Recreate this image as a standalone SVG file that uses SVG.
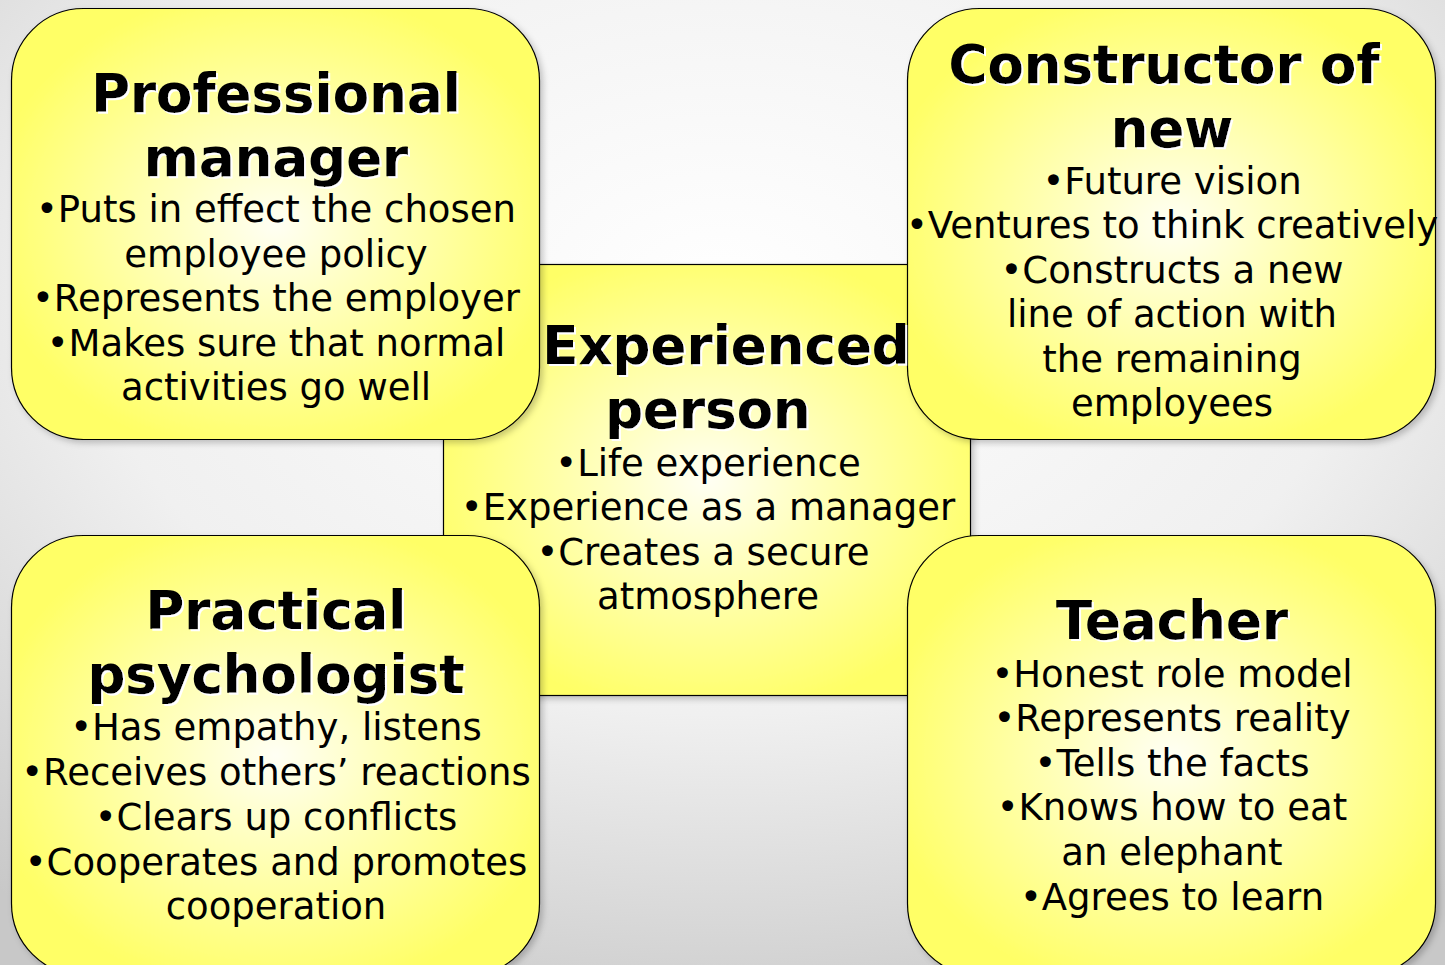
<svg xmlns="http://www.w3.org/2000/svg" width="1445" height="965" viewBox="0 0 1445 965">
  <defs>
    <radialGradient id="bg" cx="50%" cy="30%" r="80%">
      <stop offset="0" stop-color="#ffffff"/>
      <stop offset="0.55" stop-color="#f0f0f0"/>
      <stop offset="1" stop-color="#c8c8c8"/>
    </radialGradient>
    <radialGradient id="yel" cx="50%" cy="50%" r="55%">
      <stop offset="0" stop-color="#fffff4"/>
      <stop offset="0.35" stop-color="#ffffc0"/>
      <stop offset="1" stop-color="#ffff66"/>
    </radialGradient>
    <filter id="shadow" x="-10%" y="-10%" width="125%" height="125%">
      <feDropShadow dx="3" dy="3" stdDeviation="3" flood-color="#000" flood-opacity="0.22"/>
    </filter>
    <filter id="glow" x="-5%" y="-20%" width="115%" height="150%">
      <feDropShadow dx="2" dy="2" stdDeviation="0" flood-color="#ffffff" flood-opacity="1"/>
    </filter>
  </defs>
  <style>
    .box { fill: url(#yel); stroke: #000; stroke-width: 1.2; filter: url(#shadow); }
    .title { font-family: "DejaVu Sans", Verdana, sans-serif; font-weight: bold; font-size: 53px; fill: #000; text-anchor: middle; filter: url(#glow); }
    .body { font-family: "DejaVu Sans", Verdana, sans-serif; font-size: 37px; fill: #000; text-anchor: middle; }
  </style>
  <rect x="0" y="0" width="1445" height="965" fill="url(#bg)"/>

  <g id="connectors"></g>

  <g id="experienced-person">
    <rect class="box" x="443.5" y="264.5" width="527" height="431"/>
  </g>

  <g id="professional-manager">
    <rect class="box" x="11.5" y="8.5" width="528" height="431" rx="72" ry="72"/>
    <text class="title" x="276" y="112">Professional</text>
    <text class="title" x="276" y="176">manager</text>
    <text class="body" x="276" y="222">•Puts in effect the chosen</text>
    <text class="body" x="276" y="267">employee policy</text>
    <text class="body" x="276" y="311">•Represents the employer</text>
    <text class="body" x="276" y="356">•Makes sure that normal</text>
    <text class="body" x="276" y="400">activities go well</text>
  </g>

  <g id="constructor-of-new">
    <rect class="box" x="907.5" y="8.5" width="528" height="431" rx="72" ry="72"/>
    <text class="title" x="1164" y="83">Constructor of</text>
    <text class="title" x="1172" y="147">new</text>
    <text class="body" x="1172" y="194">•Future vision</text>
    <text class="body" x="1172" y="238">•Ventures to think creatively</text>
    <text class="body" x="1172" y="283">•Constructs a new</text>
    <text class="body" x="1172" y="327">line of action with</text>
    <text class="body" x="1172" y="372">the remaining</text>
    <text class="body" x="1172" y="416">employees</text>
  </g>

  <g id="practical-psychologist">
    <rect class="box" x="11.5" y="535.5" width="528" height="440" rx="72" ry="72"/>
    <text class="title" x="276" y="629">Practical</text>
    <text class="title" x="276" y="693">psychologist</text>
    <text class="body" x="276" y="740">•Has empathy, listens</text>
    <text class="body" x="276" y="785">•Receives others’ reactions</text>
    <text class="body" x="276" y="830">•Clears up conflicts</text>
    <text class="body" x="276" y="875">•Cooperates and promotes</text>
    <text class="body" x="276" y="919">cooperation</text>
  </g>

  <g id="teacher">
    <rect class="box" x="907.5" y="535.5" width="528" height="440" rx="72" ry="72"/>
    <text class="title" x="1172" y="639">Teacher</text>
    <text class="body" x="1172" y="687">•Honest role model</text>
    <text class="body" x="1172" y="731">•Represents reality</text>
    <text class="body" x="1172" y="776">•Tells the facts</text>
    <text class="body" x="1172" y="820">•Knows how to eat</text>
    <text class="body" x="1172" y="865">an elephant</text>
    <text class="body" x="1172" y="910">•Agrees to learn</text>
  </g>

  <g id="experienced-person-text">
    <text class="title" x="726" y="364">Experienced</text>
    <text class="title" x="708" y="428">person</text>
    <text class="body" x="708" y="476">•Life experience</text>
    <text class="body" x="708" y="520">•Experience as a manager</text>
    <text class="body" x="703" y="565">•Creates a secure</text>
    <text class="body" x="708" y="609">atmosphere</text>
  </g>
</svg>
